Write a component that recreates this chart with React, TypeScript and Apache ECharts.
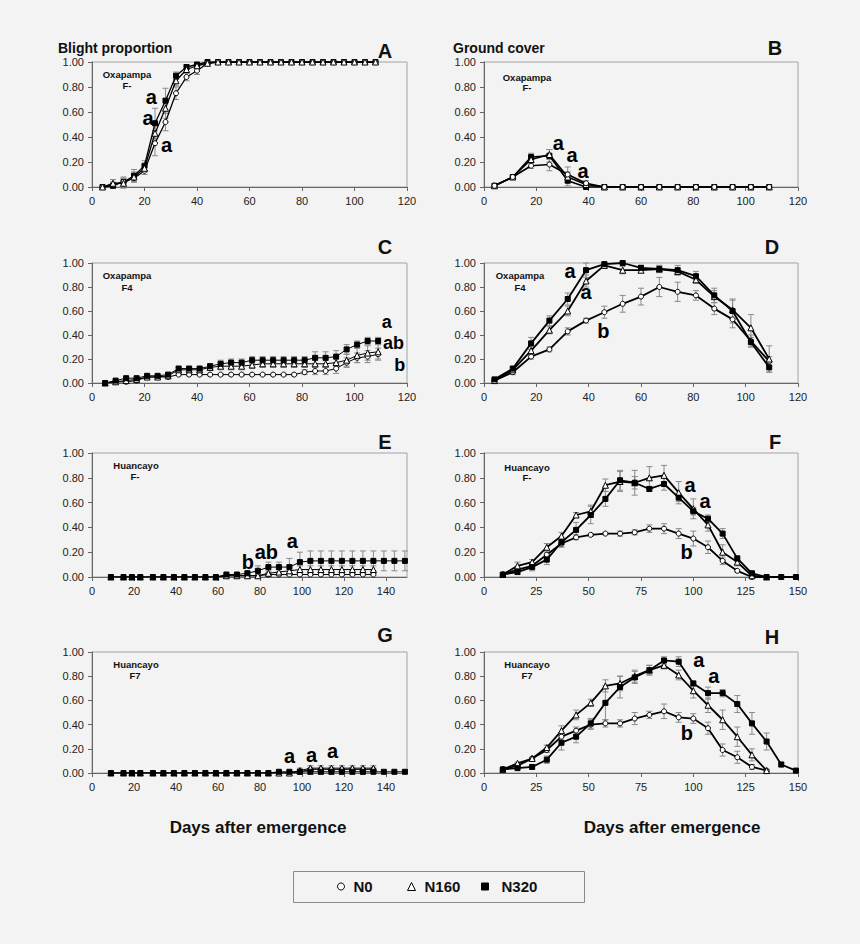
import React, { useEffect, useRef } from "react";
import * as echarts from "echarts";

// ---------- DATA ----------
// Panel A: Blight proportion, Oxapampa F-
const A_DAYS = [4, 8, 12, 16, 20, 24, 28, 32, 36, 40, 44, 48, 52, 56, 60, 64, 68, 72, 76, 80, 84, 88, 92, 96, 100, 104, 108];
const A_N0 = [0, 0.02, 0.04, 0.07, 0.13, 0.35, 0.52, 0.75, 0.88, 0.93, 0.99, 1, 1, 1, 1, 1, 1, 1, 1, 1, 1, 1, 1, 1, 1, 1, 1];
const A_N0_ERR = [0, 0.02, 0.03, 0.03, 0.03, 0.1, 0.07, 0.05, 0.03, 0.03, 0.01, 0, 0, 0, 0, 0, 0, 0, 0, 0, 0, 0, 0, 0, 0, 0, 0];
const A_N160 = [0, 0.03, 0.03, 0.08, 0.15, 0.43, 0.63, 0.85, 0.94, 0.97, 0.99, 1, 1, 1, 1, 1, 1, 1, 1, 1, 1, 1, 1, 1, 1, 1, 1];
const A_N160_ERR = [0, 0.03, 0.04, 0.04, 0.03, 0.08, 0.08, 0.04, 0.03, 0.02, 0.01, 0, 0, 0, 0, 0, 0, 0, 0, 0, 0, 0, 0, 0, 0, 0, 0];
const A_N320 = [0, 0.01, 0.04, 0.09, 0.17, 0.51, 0.69, 0.89, 0.96, 0.98, 1, 1, 1, 1, 1, 1, 1, 1, 1, 1, 1, 1, 1, 1, 1, 1, 1];
const A_N320_ERR = [0, 0.02, 0.04, 0.05, 0.04, 0.12, 0.1, 0.03, 0.02, 0.01, 0, 0, 0, 0, 0, 0, 0, 0, 0, 0, 0, 0, 0, 0, 0, 0, 0];

// Panels B and D: Ground cover, Oxapampa
const OXA_COVER_DAYS = [4, 11, 18, 25, 32, 39, 46, 53, 60, 67, 74, 81, 88, 95, 102, 109];
const B_N0 = [0.01, 0.08, 0.17, 0.18, 0.1, 0.03, 0, 0, 0, 0, 0, 0, 0, 0, 0, 0];
const B_N0_ERR = [0, 0.01, 0.02, 0.05, 0.06, 0.02, 0, 0, 0, 0, 0, 0, 0, 0, 0, 0];
const B_N160 = [0.01, 0.08, 0.22, 0.26, 0.08, 0.02, 0, 0, 0, 0, 0, 0, 0, 0, 0, 0];
const B_N160_ERR = [0, 0.01, 0.02, 0.04, 0.04, 0.01, 0, 0, 0, 0, 0, 0, 0, 0, 0, 0];
const B_N320 = [0.01, 0.08, 0.24, 0.25, 0.05, 0, 0, 0, 0, 0, 0, 0, 0, 0, 0, 0];
const B_N320_ERR = [0, 0.01, 0.03, 0.05, 0.04, 0, 0, 0, 0, 0, 0, 0, 0, 0, 0, 0];

// Panel C: Blight proportion, Oxapampa F4
const C_DAYS = [5, 9, 13, 17, 21, 25, 29, 33, 37, 41, 45, 49, 53, 57, 61, 65, 69, 73, 77, 81, 85, 89, 93, 97, 101, 105, 109];
const C_N0 = [0, 0.01, 0.01, 0.02, 0.05, 0.05, 0.05, 0.07, 0.07, 0.07, 0.07, 0.07, 0.07, 0.07, 0.07, 0.07, 0.07, 0.07, 0.07, 0.09, 0.1, 0.1, 0.12, 0.17, 0.21, 0.22, 0.24];
const C_N0_ERR = [0, 0.01, 0.01, 0.01, 0.01, 0.01, 0.01, 0.01, 0.01, 0.01, 0.01, 0.01, 0.01, 0.01, 0.01, 0.01, 0.01, 0.01, 0.01, 0.02, 0.03, 0.03, 0.04, 0.04, 0.04, 0.05, 0.05];
const C_N160 = [0, 0.01, 0.02, 0.03, 0.05, 0.05, 0.06, 0.11, 0.11, 0.11, 0.13, 0.14, 0.14, 0.14, 0.15, 0.16, 0.16, 0.16, 0.16, 0.16, 0.16, 0.16, 0.17, 0.19, 0.23, 0.25, 0.26];
const C_N160_ERR = [0, 0.01, 0.01, 0.01, 0.01, 0.01, 0.01, 0.02, 0.02, 0.02, 0.02, 0.03, 0.03, 0.03, 0.03, 0.03, 0.03, 0.03, 0.03, 0.03, 0.03, 0.03, 0.03, 0.05, 0.06, 0.06, 0.06];
const C_N320 = [0, 0.02, 0.04, 0.04, 0.06, 0.06, 0.07, 0.12, 0.12, 0.12, 0.14, 0.16, 0.17, 0.17, 0.19, 0.19, 0.19, 0.19, 0.19, 0.19, 0.21, 0.21, 0.22, 0.28, 0.32, 0.35, 0.35];
const C_N320_ERR = [0, 0.01, 0.01, 0.01, 0.01, 0.01, 0.01, 0.02, 0.02, 0.02, 0.02, 0.03, 0.03, 0.03, 0.03, 0.03, 0.03, 0.03, 0.03, 0.03, 0.05, 0.05, 0.05, 0.04, 0.03, 0.03, 0.03];

const D_N0 = [0.02, 0.09, 0.22, 0.28, 0.43, 0.52, 0.59, 0.66, 0.72, 0.8, 0.76, 0.73, 0.62, 0.53, 0.35, 0.18];
const D_N0_ERR = [0.01, 0.02, 0.02, 0.02, 0.03, 0.02, 0.05, 0.07, 0.07, 0.08, 0.08, 0.04, 0.05, 0.07, 0.05, 0.04];
const D_N160 = [0.02, 0.11, 0.27, 0.44, 0.6, 0.85, 0.98, 0.94, 0.94, 0.95, 0.93, 0.86, 0.72, 0.61, 0.46, 0.2];
const D_N160_ERR = [0.01, 0.02, 0.04, 0.03, 0.04, 0.05, 0.02, 0.03, 0.02, 0.03, 0.03, 0.03, 0.05, 0.08, 0.11, 0.11];
const D_N320 = [0.03, 0.12, 0.33, 0.52, 0.7, 0.94, 0.99, 1.0, 0.96, 0.95, 0.94, 0.89, 0.73, 0.6, 0.34, 0.13];
const D_N320_ERR = [0.01, 0.02, 0.05, 0.04, 0.05, 0.06, 0.02, 0.01, 0.02, 0.03, 0.04, 0.04, 0.06, 0.1, 0.04, 0.04];

// Panels E and G: Blight proportion, Huancayo
const HUA_BLIGHT_DAYS = [9, 15, 19, 23, 29, 34, 39, 44, 49, 54, 59, 64, 69, 74, 79, 84, 89, 94, 99, 104, 109, 114, 119, 124, 129, 134, 139, 144, 149];
const E_N0 = [0, 0, 0, 0, 0, 0, 0, 0, 0, 0, 0, 0.01, 0.01, 0.01, 0.01, 0.02, 0.02, 0.02, 0.02, 0.02, 0.02, 0.02, 0.02, 0.02, 0.02, 0.02];
const E_N0_ERR = [0, 0, 0, 0, 0, 0, 0, 0, 0, 0, 0, 0, 0, 0, 0, 0.01, 0.01, 0.01, 0.01, 0.01, 0.01, 0.01, 0.01, 0.01, 0.01, 0.01];
const E_N160 = [0, 0, 0, 0, 0, 0, 0, 0, 0, 0, 0, 0.01, 0.01, 0.01, 0.01, 0.03, 0.04, 0.05, 0.06, 0.06, 0.06, 0.06, 0.06, 0.06, 0.06, 0.06];
const E_N160_ERR = [0, 0, 0, 0, 0, 0, 0, 0, 0, 0, 0, 0, 0, 0.01, 0.01, 0.02, 0.02, 0.03, 0.03, 0.03, 0.03, 0.03, 0.03, 0.03, 0.03, 0.03];
const E_N320 = [0, 0, 0, 0, 0, 0, 0, 0, 0, 0, 0, 0.02, 0.02, 0.03, 0.05, 0.08, 0.08, 0.08, 0.12, 0.13, 0.13, 0.13, 0.13, 0.13, 0.13, 0.13, 0.13, 0.13, 0.13];
const E_N320_ERR = [0, 0, 0, 0, 0, 0, 0, 0, 0, 0, 0, 0.01, 0.01, 0.02, 0.04, 0.04, 0.04, 0.07, 0.08, 0.08, 0.08, 0.08, 0.08, 0.08, 0.08, 0.08, 0.08, 0.08, 0.08];

const G_N0 = [0, 0, 0, 0, 0, 0, 0, 0, 0, 0, 0, 0, 0, 0, 0, 0, 0, 0, 0.01, 0.03, 0.03, 0.03, 0.03, 0.03, 0.03, 0.03];
const G_N0_ERR = [0, 0, 0, 0, 0, 0, 0, 0, 0, 0, 0, 0, 0, 0, 0, 0, 0, 0, 0.01, 0.01, 0.01, 0.01, 0.01, 0.01, 0.01, 0.01];
const G_N160 = [0, 0, 0, 0, 0, 0, 0, 0, 0, 0, 0, 0, 0, 0, 0, 0, 0, 0, 0.02, 0.04, 0.04, 0.04, 0.04, 0.04, 0.04, 0.04];
const G_N160_ERR = [0, 0, 0, 0, 0, 0, 0, 0, 0, 0, 0, 0, 0, 0, 0, 0, 0, 0, 0.02, 0.02, 0.02, 0.02, 0.02, 0.02, 0.02, 0.02];
const G_N320 = [0, 0, 0, 0, 0, 0, 0, 0, 0, 0, 0, 0, 0, 0, 0, 0, 0.01, 0.01, 0.01, 0.01, 0.01, 0.01, 0.01, 0.01, 0.01, 0.01, 0.01, 0.01, 0.01];
const G_N320_ERR = [0, 0, 0, 0, 0, 0, 0, 0, 0, 0, 0, 0, 0, 0, 0, 0, 0, 0, 0.02, 0.02, 0.02, 0.02, 0.02, 0.02, 0.02, 0, 0, 0, 0];

// Panels F and H: Ground cover, Huancayo
const HUA_COVER_DAYS = [9, 16, 23, 30, 37, 44, 51, 58, 65, 72, 79, 86, 93, 100, 107, 114, 121, 128, 135, 142, 149];
const F_N0 = [0.02, 0.06, 0.09, 0.18, 0.27, 0.32, 0.34, 0.35, 0.35, 0.36, 0.39, 0.39, 0.35, 0.31, 0.24, 0.13, 0.05, 0.0, 0];
const F_N0_ERR = [0.01, 0.02, 0.02, 0.02, 0.02, 0.02, 0.01, 0.01, 0.02, 0.02, 0.03, 0.04, 0.04, 0.06, 0.05, 0.03, 0.01, 0, 0];
const F_N160 = [0.02, 0.09, 0.12, 0.24, 0.33, 0.5, 0.53, 0.74, 0.77, 0.76, 0.8, 0.82, 0.68, 0.55, 0.42, 0.2, 0.12, 0.01, 0];
const F_N160_ERR = [0.01, 0.03, 0.02, 0.03, 0.03, 0.02, 0.05, 0.05, 0.08, 0.1, 0.09, 0.08, 0.09, 0.08, 0.05, 0.06, 0.03, 0.01, 0];
const F_N320 = [0.02, 0.04, 0.08, 0.14, 0.28, 0.38, 0.5, 0.63, 0.78, 0.76, 0.71, 0.75, 0.64, 0.53, 0.47, 0.35, 0.15, 0.03, 0, 0, 0];
const F_N320_ERR = [0.01, 0.02, 0.03, 0.04, 0.04, 0.06, 0.07, 0.06, 0.08, 0.05, 0.02, 0.05, 0.03, 0.03, 0.03, 0.04, 0.02, 0.01, 0, 0, 0];

const H_N0 = [0.03, 0.06, 0.12, 0.19, 0.3, 0.35, 0.4, 0.41, 0.41, 0.45, 0.48, 0.51, 0.46, 0.45, 0.37, 0.19, 0.13, 0.05, 0.02];
const H_N0_ERR = [0.01, 0.01, 0.01, 0.02, 0.03, 0.03, 0.04, 0.03, 0.03, 0.05, 0.03, 0.06, 0.04, 0.04, 0.05, 0.05, 0.05, 0.02, 0.01];
const H_N160 = [0.03, 0.08, 0.12, 0.21, 0.35, 0.48, 0.58, 0.72, 0.74, 0.8, 0.85, 0.89, 0.81, 0.68, 0.56, 0.44, 0.3, 0.15, 0.02];
const H_N160_ERR = [0.01, 0.01, 0.01, 0.02, 0.04, 0.04, 0.03, 0.05, 0.06, 0.05, 0.04, 0.03, 0.04, 0.06, 0.06, 0.08, 0.08, 0.05, 0.01];
const H_N320 = [0.03, 0.04, 0.05, 0.11, 0.25, 0.3, 0.41, 0.58, 0.71, 0.79, 0.85, 0.93, 0.92, 0.74, 0.66, 0.66, 0.57, 0.41, 0.26, 0.07, 0.02];
const H_N320_ERR = [0.01, 0.01, 0.02, 0.03, 0.06, 0.05, 0.04, 0.14, 0.09, 0.05, 0.04, 0.03, 0.04, 0.02, 0.05, 0.03, 0.07, 0.09, 0.07, 0.02, 0.01];

// Significance letters (day, value, letter)
const A_LETTERS: [number, number, string][] = [[22.6, 0.72, "a"], [21.4, 0.55, "a"], [28.4, 0.34, "a"]];
const B_LETTERS: [number, number, string][] = [[28.4, 0.35, "a"], [33.7, 0.26, "a"], [37.9, 0.13, "a"]];
const C_LETTERS: [number, number, string][] = [[112.3, 0.51, "a"], [114.9, 0.33, "ab"], [117.2, 0.15, "b"]];
const D_LETTERS: [number, number, string][] = [[32.9, 0.93, "a"], [39, 0.76, "a"], [45.6, 0.43, "b"]];
const E_LETTERS: [number, number, string][] = [[74.2, 0.12, "b"], [83, 0.2, "ab"], [95.4, 0.29, "a"]];
const F_LETTERS: [number, number, string][] = [[98.4, 0.74, "a"], [105.6, 0.61, "a"], [96.8, 0.2, "b"]];
const G_LETTERS: [number, number, string][] = [[94.1, 0.14, "a"], [104.5, 0.15, "a"], [114.5, 0.18, "a"]];
const H_LETTERS: [number, number, string][] = [[102.6, 0.93, "a"], [109.8, 0.8, "a"], [96.9, 0.33, "b"]];

const TREATMENTS = ["N0", "N160", "N320"];
const Y_TICKS = [0, 0.2, 0.4, 0.6, 0.8, 1.0];

// ---------- LAYOUT / STYLE ----------
const FONT = '"Liberation Sans", Arial, Helvetica, sans-serif';
const BG = "#f3f3f3";
const COL_LEFT = [92, 484];
const COL_WIDTH = [315, 314];
const ROW_TOP = [62, 263, 453, 652];
const ROW_HEIGHT = [125, 120, 124, 121];

const SYMBOLS: Record<string, { symbol: string; size: number; fill: string }> = {
  N0: { symbol: "circle", size: 5, fill: "#ffffff" },
  N160: { symbol: "triangle", size: 6, fill: "#ffffff" },
  N320: { symbol: "rect", size: 5, fill: "#000000" },
};

type Panel = {
  row: number;
  col: number;
  days: number[];
  values: number[][];
  errors: number[][];
  xMax: number;
  xInterval: number;
  letters: [number, number, string][];
  letterSize: number;
  lineWidth: number;
  drawOrder: number[]; // treatment indices, last drawn on top
};

const PANELS: Panel[] = [
  { row: 0, col: 0, days: A_DAYS, values: [A_N0, A_N160, A_N320], errors: [A_N0_ERR, A_N160_ERR, A_N320_ERR], xMax: 120, xInterval: 20, letters: A_LETTERS, letterSize: 20, lineWidth: 1.3, drawOrder: [2, 0, 1] },
  { row: 0, col: 1, days: OXA_COVER_DAYS, values: [B_N0, B_N160, B_N320], errors: [B_N0_ERR, B_N160_ERR, B_N320_ERR], xMax: 120, xInterval: 20, letters: B_LETTERS, letterSize: 20, lineWidth: 1.6, drawOrder: [2, 1, 0] },
  { row: 1, col: 0, days: C_DAYS, values: [C_N0, C_N160, C_N320], errors: [C_N0_ERR, C_N160_ERR, C_N320_ERR], xMax: 120, xInterval: 20, letters: C_LETTERS, letterSize: 18, lineWidth: 1, drawOrder: [0, 1, 2] },
  { row: 1, col: 1, days: OXA_COVER_DAYS, values: [D_N0, D_N160, D_N320], errors: [D_N0_ERR, D_N160_ERR, D_N320_ERR], xMax: 120, xInterval: 20, letters: D_LETTERS, letterSize: 20, lineWidth: 1.8, drawOrder: [0, 1, 2] },
  { row: 2, col: 0, days: HUA_BLIGHT_DAYS, values: [E_N0, E_N160, E_N320], errors: [E_N0_ERR, E_N160_ERR, E_N320_ERR], xMax: 150, xInterval: 20, letters: E_LETTERS, letterSize: 20, lineWidth: 1, drawOrder: [0, 1, 2] },
  { row: 2, col: 1, days: HUA_COVER_DAYS, values: [F_N0, F_N160, F_N320], errors: [F_N0_ERR, F_N160_ERR, F_N320_ERR], xMax: 150, xInterval: 25, letters: F_LETTERS, letterSize: 20, lineWidth: 1.8, drawOrder: [0, 1, 2] },
  { row: 3, col: 0, days: HUA_BLIGHT_DAYS, values: [G_N0, G_N160, G_N320], errors: [G_N0_ERR, G_N160_ERR, G_N320_ERR], xMax: 150, xInterval: 20, letters: G_LETTERS, letterSize: 20, lineWidth: 1, drawOrder: [0, 1, 2] },
  { row: 3, col: 1, days: HUA_COVER_DAYS, values: [H_N0, H_N160, H_N320], errors: [H_N0_ERR, H_N160_ERR, H_N320_ERR], xMax: 150, xInterval: 25, letters: H_LETTERS, letterSize: 20, lineWidth: 1.8, drawOrder: [0, 1, 2] },
];

const errRender = (_params: any, api: any) => {
  const x = api.value(0);
  const lo = api.coord([x, api.value(1)]);
  const hi = api.coord([x, api.value(2)]);
  const c = 3;
  const style = { stroke: "#8a8a8a", lineWidth: 1 };
  return {
    type: "group",
    children: [
      { type: "line", shape: { x1: lo[0], y1: lo[1], x2: hi[0], y2: hi[1] }, style },
      { type: "line", shape: { x1: lo[0] - c, y1: lo[1], x2: lo[0] + c, y2: lo[1] }, style },
      { type: "line", shape: { x1: hi[0] - c, y1: hi[1], x2: hi[0] + c, y2: hi[1] }, style },
    ],
  };
};

function buildOption() {
  const grid: any[] = [];
  const xAxis: any[] = [];
  const yAxis: any[] = [];
  const series: any[] = [];

  PANELS.forEach((p, i) => {
    grid.push({
      left: COL_LEFT[p.col],
      top: ROW_TOP[p.row],
      width: COL_WIDTH[p.col],
      height: ROW_HEIGHT[p.row],
      show: true,
      borderColor: "#a3a3a3",
      borderWidth: 1,
      backgroundColor: "transparent",
    });
    xAxis.push({
      gridIndex: i,
      type: "value",
      min: 0,
      max: p.xMax,
      interval: p.xInterval,
      axisLine: { show: true, onZero: false, lineStyle: { color: "#666", width: 1 } },
      axisTick: { show: true, length: 4, lineStyle: { color: "#666" } },
      axisLabel: {
        color: "#222",
        fontSize: 11,
        fontFamily: FONT,
        margin: 8,
        showMaxLabel: p.xMax % p.xInterval === 0,
      },
      splitLine: { show: false },
    });
    yAxis.push({
      gridIndex: i,
      type: "value",
      min: Y_TICKS[0],
      max: Y_TICKS[Y_TICKS.length - 1],
      interval: 0.2,
      axisLine: { show: true, lineStyle: { color: "#666", width: 1 } },
      axisTick: { show: true, length: 4, lineStyle: { color: "#666" } },
      axisLabel: {
        color: "#222",
        fontSize: 11,
        fontFamily: FONT,
        margin: 8,
        formatter: (v: number) => v.toFixed(2),
      },
      splitLine: { show: false },
    });

    TREATMENTS.forEach((name, k) => {
      const vals = p.values[k];
      const errs = p.errors[k];
      const errData = vals
        .map((v, j) => [p.days[j], v - errs[j], v + errs[j], errs[j]])
        .filter((d) => d[3] > 0);
      series.push({
        type: "custom",
        name: "err-" + name,
        xAxisIndex: i,
        yAxisIndex: i,
        data: errData,
        encode: { x: 0, y: [1, 2] },
        renderItem: errRender,
        silent: true,
        z: 1,
      });
    });

    p.drawOrder.forEach((k, order) => {
      const name = TREATMENTS[k];
      const vals = p.values[k];
      const s = SYMBOLS[name];
      series.push({
        type: "line",
        name,
        xAxisIndex: i,
        yAxisIndex: i,
        data: vals.map((v, j) => [p.days[j], v]),
        symbol: s.symbol,
        symbolSize: s.size,
        showSymbol: true,
        showAllSymbol: true,
        itemStyle: { color: s.fill, borderColor: "#000", borderWidth: 1 },
        lineStyle: { color: "#000", width: p.lineWidth },
        silent: true,
        z: 2 + order,
      });
    });

    series.push({
      type: "scatter",
      name: "letters",
      xAxisIndex: i,
      yAxisIndex: i,
      symbolSize: 0,
      silent: true,
      z: 10,
      itemStyle: { opacity: 1 },
      data: p.letters.map((l) => ({ value: [l[0], l[1]], label: { formatter: l[2] } })),
      label: {
        show: true,
        position: "inside",
        fontFamily: FONT,
        fontWeight: "bold",
        fontSize: p.letterSize,
        lineHeight: 14,
        color: "#000",
        opacity: 1,
        textBorderWidth: 0,
      },
    });
  });

  const txt = (text: string, x: number, y: number, size: number, align = "center", weight = "bold") => ({
    type: "text",
    x,
    y,
    silent: true,
    style: {
      text,
      font: `${weight} ${size}px ${FONT}`,
      fill: "#111",
      align,
      textAlign: align,
      verticalAlign: "middle",
      textVerticalAlign: "middle",
    },
  });

  const graphic: any[] = [
    txt("Blight proportion", 58, 48, 14, "left"),
    txt("Ground cover", 453, 48, 14, "left"),
    txt("A", 385, 51, 20),
    txt("B", 775, 48, 20),
    txt("C", 385, 247, 20),
    txt("D", 772, 247, 20),
    txt("E", 385, 442, 20),
    txt("F", 775, 442, 20),
    txt("G", 385, 635, 20),
    txt("H", 772, 637, 20),
    txt("Oxapampa", 127, 74, 9.5),
    txt("F-", 127, 85, 9.5),
    txt("Oxapampa", 527, 77, 9.5),
    txt("F-", 527, 87, 9.5),
    txt("Oxapampa", 127, 275, 9.5),
    txt("F4", 127, 287, 9.5),
    txt("Oxapampa", 520, 275, 9.5),
    txt("F4", 520, 287, 9.5),
    txt("Huancayo", 136, 465, 9.5),
    txt("F-", 135, 476, 9.5),
    txt("Huancayo", 527, 467, 9.5),
    txt("F-", 527, 477, 9.5),
    txt("Huancayo", 136, 664, 9.5),
    txt("F7", 135, 675, 9.5),
    txt("Huancayo", 527, 664, 9.5),
    txt("F7", 527, 675, 9.5),
    txt("Days after emergence", 258, 827, 17),
    txt("Days after emergence", 672, 827, 17),
    {
      type: "rect",
      silent: true,
      shape: { x: 293.5, y: 871.5, width: 291, height: 31 },
      style: { fill: BG, stroke: "#8a8a8a", lineWidth: 1 },
      z: -1,
    },
  ];

  const legendText = { fontFamily: FONT, fontWeight: "bold", fontSize: 15, color: "#111" };
  const legendAt = (name: string, left: number) => ({
    data: [
      {
        name,
        icon: SYMBOLS[name].symbol,
        itemStyle: { color: SYMBOLS[name].fill, borderColor: "#000", borderWidth: 1 },
      },
    ],
    left,
    top: 879,
    padding: 0,
    itemWidth: name === "N160" ? 8 : 7,
    itemHeight: name === "N160" ? 8 : 7,
    selectedMode: false,
    textStyle: { ...legendText, padding: [0, 0, 0, name === "N320" ? 8 : 4] },
  });

  return {
    animation: false,
    backgroundColor: BG,
    grid,
    xAxis,
    yAxis,
    series,
    graphic,
    legend: [legendAt("N0", 337), legendAt("N160", 407), legendAt("N320", 481)],
  };
}

export default function App() {
  const ref = useRef<HTMLDivElement>(null);
  useEffect(() => {
    if (!ref.current) return;
    const chart = echarts.init(ref.current, null, { renderer: "svg" });
    chart.setOption(buildOption() as any);
    return () => chart.dispose();
  }, []);
  return (
    <div
      ref={ref}
      style={{ position: "absolute", left: 0, top: 0, width: 860, height: 944 }}
    />
  );
}
